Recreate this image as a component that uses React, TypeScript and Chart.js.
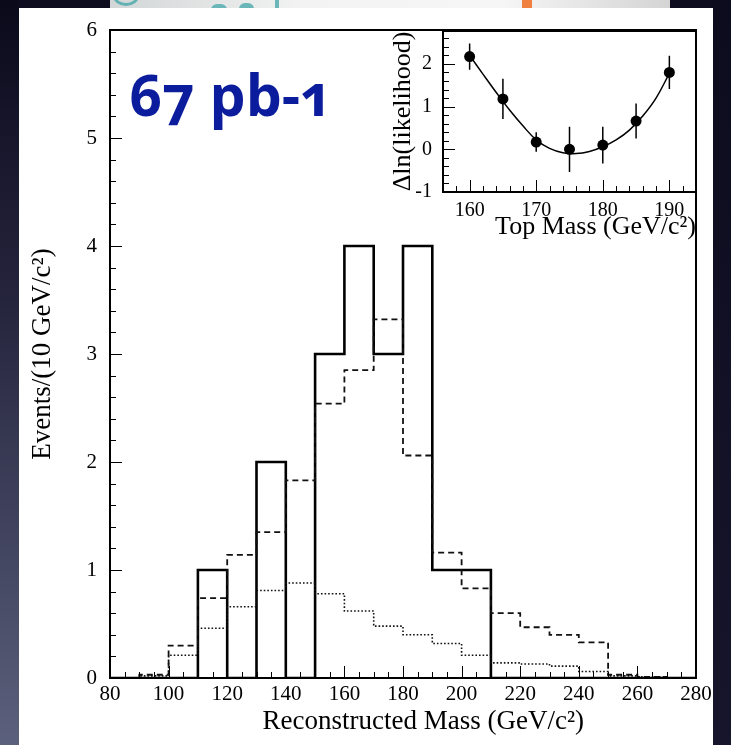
import React, { useEffect, useRef } from 'react';
import { Chart, registerables } from 'chart.js';

Chart.register(...registerables);

// ---------- main histogram data ----------
const binEdges = [80, 90, 100, 110, 120, 130, 140, 150, 160, 170, 180, 190, 200, 210, 220, 230, 240, 250, 260, 270, 280];
const observedEvents = [0, 0, 0, 1, 0, 2, 0, 3, 4, 3, 4, 1, 1, 0, 0, 0, 0, 0, 0, 0];
const expectedTotal = [0, 0.03, 0.3, 0.74, 1.14, 1.35, 1.83, 2.54, 2.85, 3.32, 2.06, 1.16, 0.83, 0.6, 0.47, 0.4, 0.33, 0.03, 0.01, 0];
const expectedBackground = [0, 0.02, 0.21, 0.46, 0.66, 0.81, 0.88, 0.78, 0.62, 0.48, 0.4, 0.32, 0.21, 0.14, 0.13, 0.11, 0.06, 0.02, 0.01, 0];
const mainXTicks = [80, 100, 120, 140, 160, 180, 200, 220, 240, 260, 280];
const mainYTicks = [0, 1, 2, 3, 4, 5, 6];

// ---------- inset likelihood data ----------
const topMass = [160, 165, 170, 175, 180, 185, 190];
const deltaLnL = [2.17, 1.18, 0.17, 0.0, 0.1, 0.66, 1.8];
const deltaLnLErr = [0.31, 0.47, 0.23, 0.53, 0.43, 0.41, 0.39];
const fitMass = [160, 162, 164, 166, 168, 170, 172, 174, 176, 178, 180, 182, 184, 186, 188, 190];
const fitDeltaLnL = [2.2, 1.76, 1.33, 0.92, 0.55, 0.22, 0.02, -0.08, -0.1, -0.05, 0.06, 0.22, 0.45, 0.78, 1.2, 1.78];
const insetXTicks = [160, 170, 180, 190];
const insetYTicks = [-1, 0, 1, 2];

const SERIF = "'Liberation Serif', 'DejaVu Serif', serif";

const histPoints = (vals: number[]) =>
  binEdges.map((x, i) => ({ x, y: vals[Math.min(i, vals.length - 1)] }));

// ROOT-like frame with inward major/minor ticks
const rootFrame = {
  id: 'rootFrame',
  afterDraw(chart: any, _args: any, o: any) {
    const { ctx, chartArea: a, scales } = chart;
    const xs = scales.x;
    const ys = scales.y;
    ctx.save();
    ctx.strokeStyle = '#000';
    ctx.lineWidth = 1;
    ctx.beginPath();
    const isMajor = (v: number, step: number) => Math.abs(v / step - Math.round(v / step)) < 1e-6;
    const nx = Math.round((xs.max - o.xStart) / o.xMinor);
    for (let k = 0; k <= nx; k++) {
      const v = o.xStart + k * o.xMinor;
      const px = Math.round(xs.getPixelForValue(v)) + 0.5;
      const len = isMajor(v, o.xMajor) ? o.majorLen : o.minorLen;
      ctx.moveTo(px, a.bottom);
      ctx.lineTo(px, a.bottom - len);
    }
    const ny = Math.round((ys.max - o.yStart) / o.yMinor + 1e-6);
    for (let k = 0; k <= ny; k++) {
      const v = o.yStart + k * o.yMinor;
      if (v > ys.max + 1e-9) break;
      const py = Math.round(ys.getPixelForValue(v)) + 0.5;
      const len = isMajor(v, o.yMajor) ? o.majorLen : o.minorLen;
      ctx.moveTo(a.left, py);
      ctx.lineTo(a.left + len, py);
    }
    ctx.stroke();
    ctx.lineWidth = o.frameWidth;
    ctx.strokeRect(a.left, a.top, a.right - a.left, a.bottom - a.top);
    ctx.restore();
  },
};

// vertical error bars for the inset points
const errorBars = {
  id: 'errorBars',
  afterDatasetsDraw(chart: any) {
    const { ctx, scales } = chart;
    ctx.save();
    ctx.strokeStyle = '#000';
    ctx.lineWidth = 1.5;
    ctx.beginPath();
    topMass.forEach((m, i) => {
      const px = scales.x.getPixelForValue(m);
      ctx.moveTo(px, scales.y.getPixelForValue(deltaLnL[i] - deltaLnLErr[i]));
      ctx.lineTo(px, scales.y.getPixelForValue(deltaLnL[i] + deltaLnLErr[i]));
    });
    ctx.stroke();
    ctx.restore();
  },
};

const canvasStyle: React.CSSProperties = { position: 'absolute', left: 0, top: 0, width: 731, height: 745 };

function MainChart() {
  const ref = useRef<HTMLCanvasElement>(null);
  useEffect(() => {
    const chart = new Chart(ref.current as HTMLCanvasElement, {
      type: 'line',
      data: {
        datasets: [
          { data: histPoints(expectedBackground), stepped: 'before', borderColor: '#111', borderWidth: 1.6, borderDash: [1.6, 2], pointRadius: 0, fill: false },
          { data: histPoints(expectedTotal), stepped: 'before', borderColor: '#111', borderWidth: 1.8, borderDash: [6, 4], pointRadius: 0, fill: false },
          { data: histPoints(observedEvents), stepped: 'before', borderColor: '#000', borderWidth: 2.6, pointRadius: 0, fill: false },
        ],
      } as any,
      options: {
        responsive: false,
        animation: false,
        events: [],
        layout: { padding: { left: 0, right: 35, top: 30, bottom: 0 }, autoPadding: false },
        plugins: {
          legend: { display: false },
          tooltip: { enabled: false },
          rootFrame: { xStart: 80, xMinor: 5, xMajor: 20, yStart: 0, yMinor: 0.2, yMajor: 1, majorLen: 12, minorLen: 6, frameWidth: 2 },
        } as any,
        scales: {
          x: {
            type: 'linear',
            min: 80,
            max: 280,
            afterBuildTicks: (s: any) => { s.ticks = mainXTicks.map((v) => ({ value: v })); },
            afterFit: (s: any) => { s.height = 67; },
            grid: { display: false, drawTicks: false },
            border: { display: false },
            ticks: { padding: 4, color: '#000', autoSkip: false, maxRotation: 0, font: { family: SERIF, size: 21 } },
            title: {
              display: true,
              text: '\u00a0\u00a0\u00a0\u00a0\u00a0\u00a0Reconstructed Mass (GeV/c\u00b2)',
              color: '#000',
              font: { family: SERIF, size: 27 },
              padding: { top: 0, bottom: 7 },
            },
          },
          y: {
            type: 'linear',
            min: 0,
            max: 6,
            afterBuildTicks: (s: any) => { s.ticks = mainYTicks.map((v) => ({ value: v })); },
            afterFit: (s: any) => { s.width = 110; },
            grid: { display: false, drawTicks: false },
            border: { display: false },
            ticks: { padding: 13, color: '#000', font: { family: SERIF, size: 21 } },
            title: {
              display: true,
              text: 'Events/(10 GeV/c\u00b2)',
              color: '#000',
              font: { family: SERIF, size: 27 },
              padding: { top: 27, bottom: 0 },
            },
          },
        },
      } as any,
      plugins: [rootFrame as any],
    });
    return () => chart.destroy();
  }, []);
  return <canvas ref={ref} width={731} height={745} style={canvasStyle} />;
}

function InsetChart() {
  const ref = useRef<HTMLCanvasElement>(null);
  useEffect(() => {
    const chart = new Chart(ref.current as HTMLCanvasElement, {
      type: 'line',
      data: {
        datasets: [
          {
            data: fitMass.map((x, i) => ({ x, y: fitDeltaLnL[i] })),
            borderColor: '#000',
            borderWidth: 1.5,
            pointRadius: 0,
            tension: 0.4,
            fill: false,
          },
          {
            data: topMass.map((x, i) => ({ x, y: deltaLnL[i] })),
            showLine: false,
            pointRadius: 5.5,
            pointBackgroundColor: '#000',
            pointBorderColor: '#000',
            pointBorderWidth: 0,
          },
        ],
      } as any,
      options: {
        responsive: false,
        animation: false,
        events: [],
        layout: { padding: { left: 380, right: 35, top: 31, bottom: 500 }, autoPadding: false },
        plugins: {
          legend: { display: false },
          tooltip: { enabled: false },
          rootFrame: { xStart: 156, xMinor: 2, xMajor: 10, yStart: -1, yMinor: 0.2, yMajor: 1, majorLen: 12, minorLen: 6, frameWidth: 2 },
        } as any,
        scales: {
          x: {
            type: 'linear',
            min: 156,
            max: 194,
            afterBuildTicks: (s: any) => { s.ticks = insetXTicks.map((v) => ({ value: v })); },
            afterFit: (s: any) => { s.height = 53; },
            grid: { display: false, drawTicks: false },
            border: { display: false },
            ticks: { padding: 7, color: '#000', autoSkip: false, maxRotation: 0, font: { family: SERIF, size: 20 } },
            title: {
              display: true,
              align: 'end',
              text: 'Top Mass (GeV/c\u00b2)',
              color: '#000',
              font: { family: SERIF, size: 26 },
              padding: { top: 0, bottom: 2 },
            },
          },
          y: {
            type: 'linear',
            min: -1,
            max: 2.77,
            afterBuildTicks: (s: any) => { s.ticks = insetYTicks.map((v) => ({ value: v })); },
            afterFit: (s: any) => { s.width = 63; },
            grid: { display: false, drawTicks: false },
            border: { display: false },
            ticks: { padding: 11, color: '#000', font: { family: SERIF, size: 20 } },
            title: {
              display: true,
              text: '\u0394ln(likelihood)',
              color: '#000',
              font: { family: SERIF, size: 26 },
              padding: { top: 8, bottom: 0 },
            },
          },
        },
      } as any,
      plugins: [rootFrame as any, errorBars as any],
    });
    return () => chart.destroy();
  }, []);
  return <canvas ref={ref} width={731} height={745} style={{ ...canvasStyle, pointerEvents: 'none' }} />;
}

export default function App() {
  return (
    <div style={{ position: 'absolute', left: 0, top: 0, width: 731, height: 745, overflow: 'hidden', background: '#0e0d20' }}>
      {/* slide background strips */}
      <div style={{ position: 'absolute', left: 0, top: 0, width: 19, height: 745, background: 'linear-gradient(to bottom, #0b0a1b 0%, #25243d 40%, #5b607c 100%)' }} />
      <div style={{ position: 'absolute', left: 713, top: 0, width: 18, height: 745, background: 'linear-gradient(to bottom, #0d0c1e 0%, #16152b 100%)' }} />
      {/* cropped banner at top */}
      <div style={{ position: 'absolute', left: 110, top: 0, width: 560, height: 8, overflow: 'hidden', background: 'linear-gradient(to right, #d2d6d6 0%, #f3f3f3 35%, #f6f6f6 70%, #d4d4d4 100%)' }}>
        <div style={{ position: 'absolute', left: 3, top: -14, width: 26, height: 20, borderRadius: '50%', border: '3px solid #62b2b4', boxSizing: 'border-box' }} />
        <div style={{ position: 'absolute', left: 101, top: 4, width: 16, height: 6, background: '#6ab6b8', borderRadius: '6px 6px 0 0' }} />
        <div style={{ position: 'absolute', left: 129, top: 3, width: 15, height: 6, background: '#6ab6b8', borderRadius: '6px 6px 0 0' }} />
        <div style={{ position: 'absolute', left: 165, top: 0, width: 4, height: 8, background: '#6ab6b8' }} />
        <div style={{ position: 'absolute', left: 412, top: 0, width: 10, height: 8, background: '#f08040' }} />
      </div>
      {/* white slide card */}
      <div style={{ position: 'absolute', left: 19, top: 8, width: 694, height: 737, background: '#ffffff' }} />
      <MainChart />
      <InsetChart />
      <div
        style={{
          position: 'absolute',
          left: 129,
          top: 66,
          fontFamily: "'Open Sans', 'Lato', sans-serif",
          fontWeight: 700,
          fontSize: 57,
          lineHeight: '57px',
          color: '#0b1d9c',
          whiteSpace: 'nowrap',
          fontFeatureSettings: '"onum"',
          fontVariantNumeric: 'oldstyle-nums',
        }}
      >
        67 pb-1
      </div>
    </div>
  );
}
